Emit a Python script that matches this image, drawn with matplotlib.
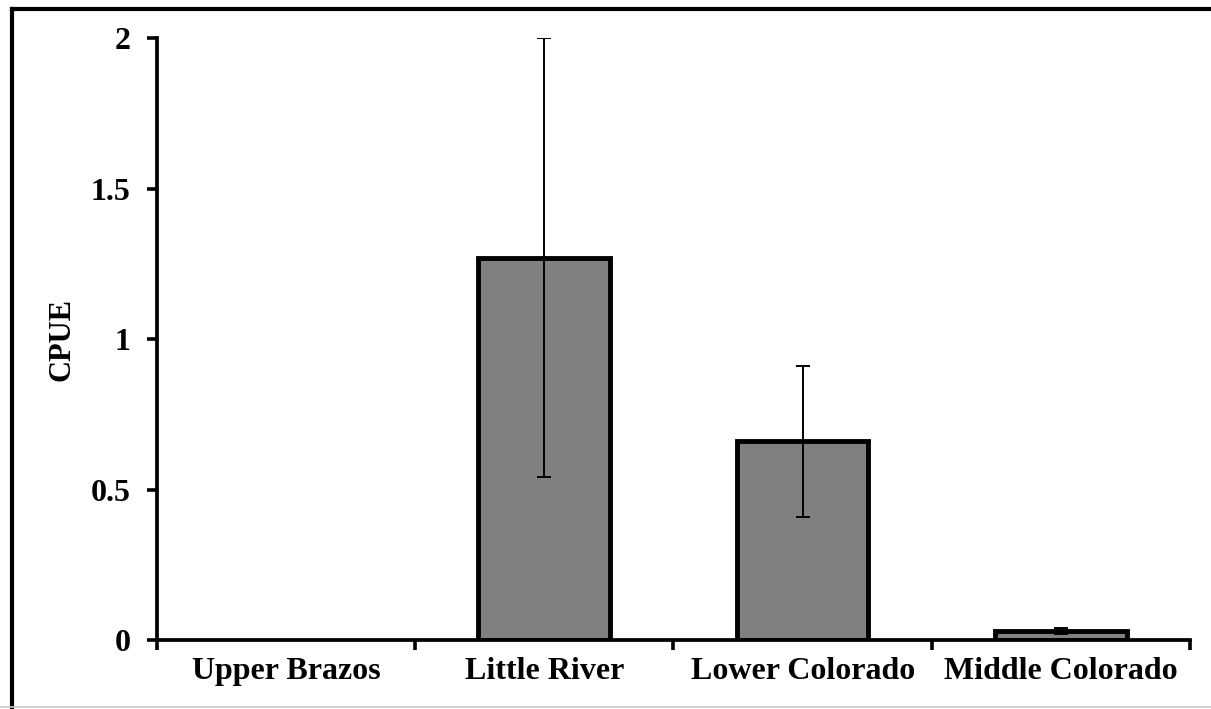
import numpy as np
import matplotlib.pyplot as plt
from matplotlib.lines import Line2D

sites = ['Upper Brazos', 'Little River', 'Lower Colorado', 'Middle Colorado']
cpue = [0.0, 1.27, 0.66, 0.03]
cpue_err = [0.0, 0.73, 0.25, 0.01]
yticks = [0, 0.5, 1, 1.5, 2]
ytick_labels = ['0', '0.5', '1', '1.5', '2']

plt.rcParams['font.family'] = ['Liberation Serif', 'DejaVu Serif']
plt.rcParams['font.weight'] = 'bold'

fig = plt.figure(figsize=(12.11, 7.09), dpi=100)
ax = fig.add_axes([0.1296, 0.0973, 0.8531, 0.8491])

x = np.arange(len(sites))
# empty sites get no outline at all
edge_w = [3.5 if v > 0 else 0 for v in cpue]
ax.bar(x, cpue, width=0.51, color='#808080', edgecolor='black', linewidth=edge_w, zorder=2)
err_x = [i for i in x if cpue_err[i] > 0]
ax.errorbar(err_x, [cpue[i] for i in err_x], yerr=[cpue_err[i] for i in err_x],
            fmt='none', ecolor='black', elinewidth=1.4, capsize=5, capthick=1.4, zorder=3)

ax.set_xlim(-0.5, 3.5)
ax.set_ylim(0, 2)
ax.set_yticks(yticks)
ax.set_yticklabels(ytick_labels, fontsize=23, fontweight='bold')
ax.set_xticks(x)
ax.set_xticklabels(sites, fontsize=23, fontweight='bold')
ax.set_xticks(np.arange(-0.5, 4, 1), minor=True)
ax.tick_params(axis='x', which='major', length=0, pad=12)
ax.tick_params(axis='x', which='minor', length=7.5, width=2.6, direction='out')
ax.tick_params(axis='y', length=7, width=2.6, direction='out', pad=12)

fig.text(62 / 1211, 0.5218, 'CPUE', rotation=90, ha='center', va='center',
         fontsize=22, fontweight='bold')

for side in ['top', 'right']:
    ax.spines[side].set_visible(False)
for side in ['left', 'bottom']:
    ax.spines[side].set_linewidth(2.7)

# outer frame around the chart area
fig.add_artist(Line2D([0.0097, 1.0], [0.9873, 0.9873], color='black', linewidth=3))
fig.add_artist(Line2D([0.0097, 0.0097], [0.003, 0.9873], color='black', linewidth=3))
fig.add_artist(Line2D([0.0, 1.0], [0.003, 0.003], color='#c8c8c8', linewidth=1.2))

fig.savefig('out.png', dpi=100)
